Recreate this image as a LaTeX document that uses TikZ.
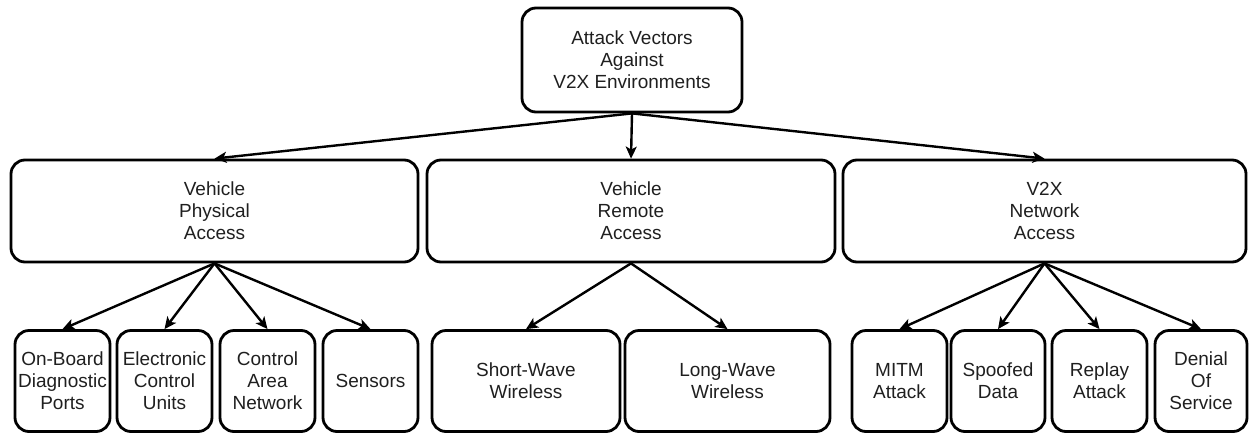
\documentclass[tikz,border=0pt]{standalone}
\usepackage{fontspec}
\setmainfont{Liberation Sans}
\usetikzlibrary{arrows.meta}
\begin{document}
\begin{tikzpicture}[x=1pt,y=-1pt,
  box/.style={draw=black, line width=2.8pt, rounded corners=14pt, align=center,
    inner sep=0pt, font=\fontsize{19}{22}\selectfont, text=black!88},
  midbox/.style={box, minimum height=102pt},
  leafbox/.style={box, minimum height=101pt},
  link/.style={line width=2.4pt, -{Stealth[length=12pt,width=11pt,inset=3pt]}}]
\useasboundingbox (0,0) rectangle (1249,434);

% root
\node[box, minimum width=220pt, minimum height=104pt] (root) at (632,60)
  {Attack Vectors\\Against\\V2X Environments};

% second level
\node[midbox, minimum width=407pt] (phys) at (214.5,211) {Vehicle\\Physical\\Access};
\node[midbox, minimum width=408pt] (remote) at (631,211) {Vehicle\\Remote\\Access};
\node[midbox, minimum width=403pt] (net) at (1044.5,211) {V2X\\Network\\Access};

% leaves
\node[leafbox, minimum width=95pt] (obd) at (62.5,381) {On-Board\\Diagnostic\\Ports};
\node[leafbox, minimum width=95pt] (ecu) at (164.5,381) {Electronic\\Control\\Units};
\node[leafbox, minimum width=95pt] (can) at (267.5,381) {Control\\Area\\Network};
\node[leafbox, minimum width=95pt] (sens) at (370.5,381) {Sensors};
\node[leafbox, minimum width=188pt] (short) at (526,381) {Short-Wave\\Wireless};
\node[leafbox, minimum width=205pt] (long) at (727.5,381) {Long-Wave\\Wireless};
\node[leafbox, minimum width=95pt] (mitm) at (899.5,381) {MITM\\Attack};
\node[leafbox, minimum width=94pt] (spoof) at (998,381) {Spoofed\\Data};
\node[leafbox, minimum width=95pt] (replay) at (1099.5,381) {Replay\\Attack};
\node[leafbox, minimum width=92pt] (dos) at (1201,381) {Denial\\Of\\Service};

% connectors
\draw[link] (root.south) -- (phys.north);
\draw[link] (root.south) -- (remote.north);
\draw[link] (root.south) -- (net.north);

\foreach \leaf in {obd,ecu,can,sens} \draw[link] (phys.south) -- (\leaf.north);
\foreach \leaf in {short,long} \draw[link] (remote.south) -- (\leaf.north);
\foreach \leaf in {mitm,spoof,replay,dos} \draw[link] (net.south) -- (\leaf.north);
\end{tikzpicture}
\end{document}
